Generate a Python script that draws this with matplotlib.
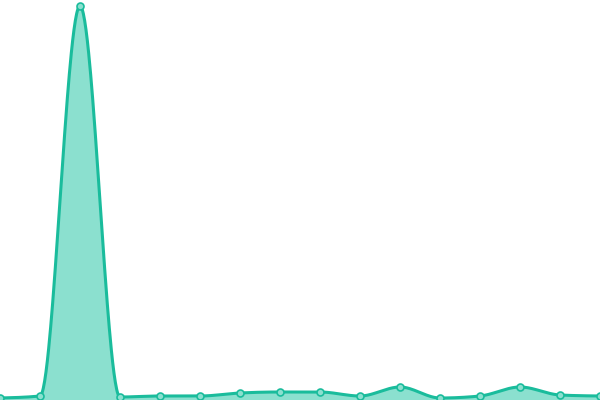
import numpy as np
import matplotlib
matplotlib.use('Agg')
import matplotlib.pyplot as plt

# data
x_idx = list(range(16))
values = [2, 4, 394, 3, 4, 4, 7, 8, 8, 4, 13, 2, 4, 13, 5, 4]

LINE = '#1abc9c'
FILL = '#8be0cf'


# monotone cubic interpolation (like d3 curveMonotoneX)
def monotone_curve(x, y, n=60):
    x = np.asarray(x, float)
    y = np.asarray(y, float)
    h = np.diff(x)
    s = np.diff(y) / h
    t = np.zeros_like(y)
    for i in range(1, len(x) - 1):
        if s[i - 1] * s[i] <= 0:
            t[i] = 0
        else:
            p = (s[i - 1] * h[i] + s[i] * h[i - 1]) / (h[i - 1] + h[i])
            t[i] = (np.sign(s[i - 1]) + np.sign(s[i])) * min(abs(s[i - 1]), abs(s[i]), 0.5 * abs(p))
    t[0] = (3 * s[0] - t[1]) / 2 if len(x) > 2 else s[0]
    t[-1] = (3 * s[-1] - t[-2]) / 2 if len(x) > 2 else s[-1]
    xs, ys = [], []
    for i in range(len(x) - 1):
        u = np.linspace(0, 1, n, endpoint=False)
        h00 = 2 * u**3 - 3 * u**2 + 1
        h10 = u**3 - 2 * u**2 + u
        h01 = -2 * u**3 + 3 * u**2
        h11 = u**3 - u**2
        xs.append(x[i] + u * h[i])
        ys.append(h00 * y[i] + h10 * h[i] * t[i] + h01 * y[i + 1] + h11 * h[i] * t[i + 1])
    xs.append([x[-1]])
    ys.append([y[-1]])
    return np.concatenate(xs), np.concatenate(ys)


fig = plt.figure(figsize=(6, 4), dpi=100)
ax = fig.add_axes([0, 0, 1, 1])

cx, cy = monotone_curve(x_idx, values)
ax.fill_between(cx, 0, cy, color=FILL, lw=0)
ax.plot(cx, cy, color=LINE, lw=2.2, solid_capstyle='round')
ax.plot(x_idx, values, 'o', ms=5, mfc=FILL, mec=LINE, mew=1.2)

ax.set_xlim(0, 15)
ax.set_ylim(0, 400)
ax.axis('off')

fig.savefig('out.png', dpi=100)
